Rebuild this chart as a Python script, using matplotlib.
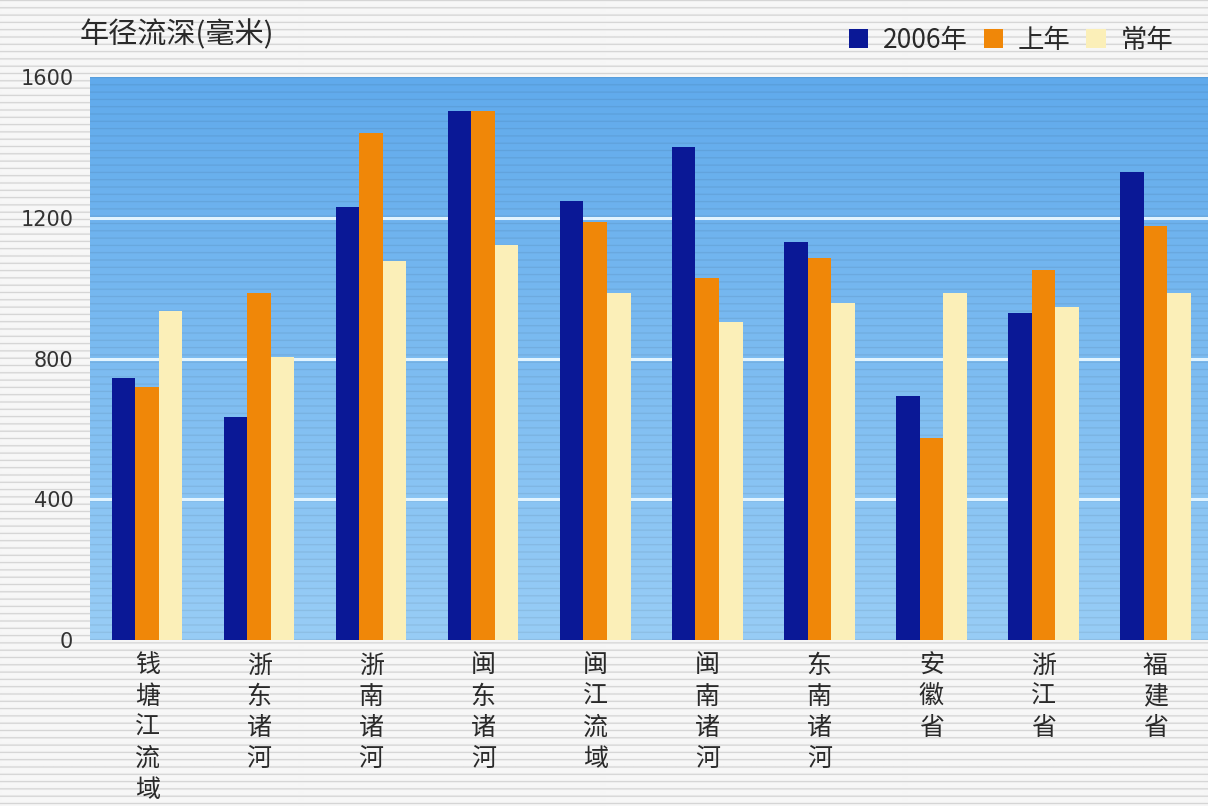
import numpy as np
import matplotlib
matplotlib.use('Agg')
import matplotlib.pyplot as plt

plt.rcParams['font.family'] = ['Noto Sans CJK SC', 'DejaVu Sans']

# Annual runoff depth (mm) by basin / province
regions = ['钱塘江流域', '浙东诸河', '浙南诸河', '闽东诸河', '闽江流域',
           '闽南诸河', '东南诸河', '安徽省', '浙江省', '福建省']
depth_2006 = [744, 634, 1230, 1503, 1247, 1401, 1131, 693, 929, 1330]
depth_last = [719, 986, 1440, 1503, 1188, 1028, 1085, 574, 1051, 1176]
depth_normal = [935, 804, 1077, 1122, 986, 903, 957, 986, 946, 986]
series_names = ['2006年', '上年', '常年']
y_ticks = [0, 400, 800, 1200, 1600]

W, H = 1208, 806
fig = plt.figure(figsize=(W / 100, H / 100), dpi=100)

# striped paper texture behind everything
bg = fig.add_axes([0, 0, 1, 1], zorder=-10)
rows = np.arange(H)
paper = 0.965 - 0.13 * np.clip(np.cos(2 * np.pi * rows / 7.3), 0, 1) ** 4
bg.imshow(np.repeat(paper[:, None], 4, axis=1), cmap='gray', vmin=0, vmax=1,
          aspect='auto', extent=[0, 1, 0, 1], interpolation='bilinear')
bg.axis('off')

top_px, bot_px, left_px = 77, 640, 90
ax = fig.add_axes([left_px / W, 1 - bot_px / H, 1 - left_px / W,
                   (bot_px - top_px) / H])
xlim = (-0.51, 9.47)

# blue gradient plot background with faint scan lines
n = bot_px - top_px
t = np.linspace(0, 1, n)[:, None]
c_top = np.array([96, 170, 236]) / 255
c_bot = np.array([152, 205, 246]) / 255
grad = c_top + (c_bot - c_top) * t
lines = 1 - 0.07 * np.clip(np.cos(2 * np.pi * np.arange(n) / 7.3), 0, 1) ** 4
grad = grad * lines[:, None]
ax.imshow(grad[:, None, :], extent=[xlim[0], xlim[1], 0, 1600],
          aspect='auto', zorder=0, interpolation='bilinear')

for v in y_ticks[1:-1]:
    ax.axhline(v, color='#e2f4ff', lw=2.2, zorder=1)

x = np.arange(len(regions))
w = 0.21
ax.bar(x - w, depth_2006, w, color='#0a1896', zorder=3, label=series_names[0])
ax.bar(x, depth_last, w, color='#f08708', zorder=3, label=series_names[1])
ax.bar(x + w, depth_normal, w, color='#fbefb8', zorder=3, label=series_names[2])

ax.set_xlim(*xlim)
ax.set_ylim(0, 1600)
ax.set_yticks(y_ticks)
ax.set_yticklabels([str(v) for v in y_ticks], fontsize=15, color='#333333',
                   family='DejaVu Sans')
ax.set_xticks(x)
ax.set_xticklabels(['\n'.join(r) for r in regions], fontsize=18,
                   color='#2a2a2a', linespacing=1.26, va='top')
ax.tick_params(axis='both', length=0)
ax.tick_params(axis='y', pad=12)
ax.tick_params(axis='x', pad=9)
for s in ax.spines.values():
    s.set_visible(False)

fig.text(80 / W, 1 - 35 / H, '年径流深(毫米)', fontsize=21, color='#2a2a2a',
         ha='left', va='center')

ax.legend(ncol=3, loc='center right', bbox_to_anchor=(1192 / W, 1 - 40 / H),
          bbox_transform=fig.transFigure, frameon=False, fontsize=19,
          handlelength=0.75, handleheight=0.75, handletextpad=0.55,
          columnspacing=0.6, labelcolor='#2a2a2a', borderpad=0.2)

fig.savefig('out.png', dpi=100)
